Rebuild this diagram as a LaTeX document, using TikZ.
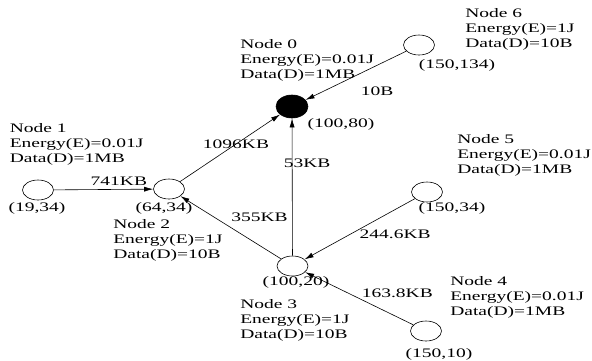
\documentclass[tikz,border=0pt]{standalone}
\usepackage{fontspec}
\setmainfont{Liberation Serif}[FakeStretch=1.5]
\usetikzlibrary{
    arrows.meta,
    shapes.geometric
}

\begin{document}
\begin{tikzpicture}[->,>={Latex[length=9pt,width=5pt]},x=1pt,y=-1pt,semithick,
    every node/.style={font=\fontsize{13}{14.8}\selectfont}]
    \tikzstyle{sensor}=[shape=ellipse, draw, minimum width=31pt, minimum height=20pt, inner sep=0pt]
    \tikzstyle{sink}=[sensor, fill=black, minimum width=32pt, minimum height=23pt]
    \tikzstyle{info}=[align=left, anchor=north west, inner sep=0pt]
    \useasboundingbox (0, 0) rectangle (592, 360);
    \node[sink] (n0) at (292, 106.5) {};
    \node[sensor] (n1) at (38, 190) {};
    \node[sensor] (n2) at (169, 189) {};
    \node[sensor] (n3) at (292.5, 266) {};
    \node[sensor] (n4) at (426, 331) {};
    \node[sensor] (n5) at (427, 192) {};
    \node[sensor] (n6) at (419, 45) {};
    \node[info] (i0) at (240, 39.4) {Node 0\\Energy(E)=0.01J\\Data(D)=1MB};
    \node[info] (i1) at (9.5, 123.6) {Node 1\\Energy(E)=0.01J\\Data(D)=1MB};
    \node[info] (i2) at (113, 219.1) {Node 2\\Energy(E)=1J\\Data(D)=10B};
    \node[info] (i3) at (240, 299.1) {Node 3\\Energy(E)=1J\\Data(D)=10B};
    \node[info] (i4) at (450, 276.1) {Node 4\\Energy(E)=0.01J\\Data(D)=1MB};
    \node[info] (i5) at (457, 134.1) {Node 5\\Energy(E)=0.01J\\Data(D)=1MB};
    \node[info] (i6) at (465, 8.6) {Node 6\\Energy(E)=1J\\Data(D)=10B};
    \node (c0) at (341, 124) {(100,80)};
    \node (c1) at (37, 208) {(19,34)};
    \node (c2) at (164, 208) {(64,34)};
    \node (c3) at (296, 282) {(100,20)};
    \node (c4) at (439, 354) {(150,10)};
    \node (c5) at (452, 208) {(150,34)};
    \node (c6) at (457, 65) {(150,134)};
    \path (n1) edge node[pos=0.655, anchor=south] {741KB} (n2);
    \path (n2) edge node[pos=0.56] {1096KB} (n0);
    \path (n6) edge node[pos=0.29, anchor=north, yshift=-18pt] {10B} (n0);
    \path (n3) edge node[pos=0.674, xshift=15pt] {53KB} (n0);
    \path (n3) edge node[pos=0.53, anchor=south west] {355KB} (n2);
    \path (n5) edge node[pos=0.534, anchor=west, yshift=-3pt] {244.6KB} (n3);
    \path (n4) edge node[pos=0.51, anchor=south west, yshift=-3pt] {163.8KB} (n3);
\end{tikzpicture}
\end{document}
